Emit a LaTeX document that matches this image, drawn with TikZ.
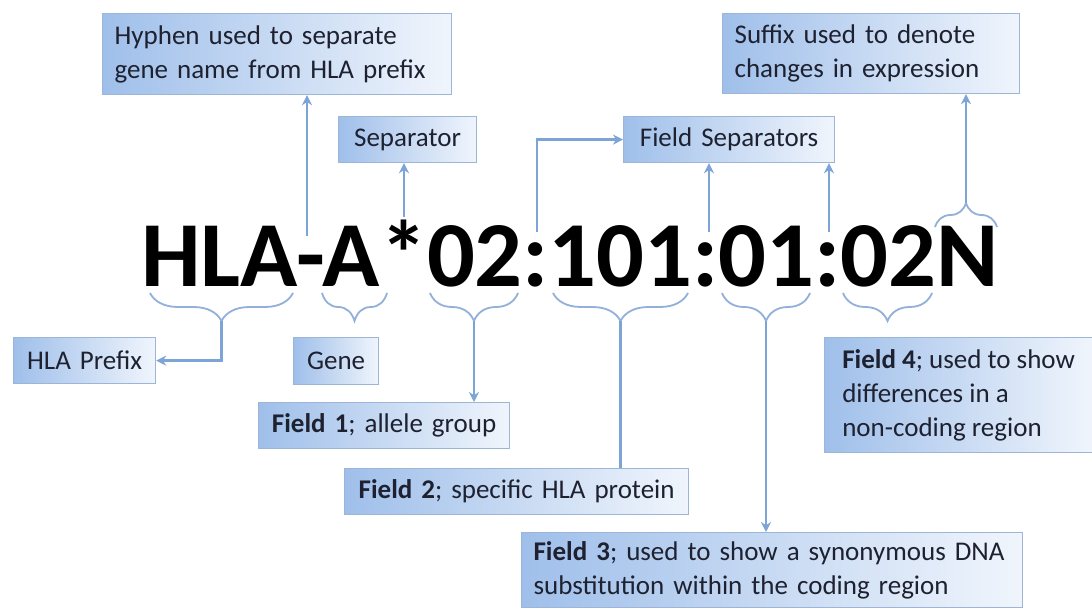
\documentclass[tikz,border=0pt]{standalone}
\usepackage{fontspec}
\setmainfont{Carlito}
\usetikzlibrary{arrows.meta,decorations.pathreplacing,calc}
\definecolor{boxL}{HTML}{9FBFEA}
\definecolor{boxR}{HTML}{F0F5FC}
\definecolor{boxB}{HTML}{9DB5D6}
\definecolor{lnC}{HTML}{7DA4D6}
\definecolor{brC}{HTML}{92B0D9}
\definecolor{txC}{HTML}{1E2130}
\begin{document}
\begin{tikzpicture}[x=1pt,y=-1pt,
  box/.style={draw=boxB, line width=1.2pt, left color=boxL, right color=boxR,
    inner xsep=12pt, inner ysep=0pt, anchor=north west, text=txC,
    font=\fontsize{27}{34}\selectfont},
  boxl/.style={box, align=left},
  boxc/.style={box, align=center},
  conn/.style={draw=lnC, line width=2.4pt},
  arr/.style={conn, -{Stealth[length=10pt,width=10pt]}},
  brc/.style={draw=brC, line width=1.8pt, decorate, decoration={brace, amplitude=28pt, mirror}},
  brcup/.style={draw=brC, line width=1.8pt, decorate, decoration={brace, amplitude=24pt}},
  ]
\useasboundingbox[fill=white] (0,0) rectangle (1092,612);

% main code
\node[anchor=base west, inner sep=0pt, font=\fontsize{93}{93}\selectfont\bfseries, text=black] (code) at (141,287) {\scalebox{1.0156}[1]{HLA-A*02:101:01:02N}};

% boxes
\node[boxl, minimum width=349pt, minimum height=81pt, text width=325pt] (hyph) at (102,13) {Hyphen used to separate\\gene name from HLA prefix};
\node[boxc, minimum width=138pt, minimum height=46pt, text width=114pt] (sep) at (338,116) {Separator};
\node[boxc, minimum width=211pt, minimum height=46pt, text width=187pt] (fsep) at (623,116) {Field Separators};
\node[boxl, minimum width=297pt, minimum height=80pt, text width=273pt] (suf) at (722,13) {Suffix used to denote\\changes in expression};
\node[boxc, minimum width=142pt, minimum height=46pt, text width=118pt] (prefix) at (13,337) {HLA Prefix};
\node[boxc, minimum width=85pt, minimum height=47pt, text width=61pt] (gene) at (293,337) {Gene};
\node[boxc, minimum width=251pt, minimum height=46pt, text width=227pt] (f1) at (258,402) {\textbf{Field 1}; allele group};
\node[boxc, minimum width=344pt, minimum height=46pt, text width=320pt] (f2) at (344,468) {\textbf{Field 2}; specific HLA protein};
\node[boxl, minimum width=501pt, minimum height=75pt, text width=477pt] (f3) at (521,532) {\textbf{Field 3}; used to show a synonymous DNA\\substitution within the coding region};
\node[boxl, minimum width=268pt, minimum height=115pt, inner xsep=6pt] (f4) at (824,337) {\textbf{Field 4}; used to show\\differences in a\\non-coding region};

% braces
\draw[brc] (150,293) -- (293,293);
\draw[brc] (322,293) -- (387,293);
\draw[brc] (430,293) -- (518,293);
\draw[brc] (553,293) -- (688,293);
\draw[brc] (722,293) -- (810,293);
\draw[brc] (843,293) -- (932,293);
\draw[brcup] (935,227) -- (997,227);

\coordinate (tHLA) at (221.5,321);
\coordinate (t02) at (474,321);
\coordinate (t101) at (620.5,321);
\coordinate (t01) at (766,321);
\coordinate (tN) at (966,203);

% connectors from the code upward
\coordinate (cHy) at (307,236);
\coordinate (cSep) at (404,217);
\coordinate (cF0) at (537,232);
\coordinate (cF1) at (709,232);
\coordinate (cF2) at (829,232);
\draw[arr] (cHy) -- (cHy |- hyph.south);
\draw[arr] (cSep) -- (cSep |- sep.south);
\draw[arr] (cF0) |- (fsep.west);
\draw[arr] (cF1) -- (cF1 |- fsep.south);
\draw[arr] (cF2) -- (cF2 |- fsep.south);
\draw[arr] (tN) -- (tN |- suf.south);

% connectors from braces downward
\draw[arr] (tHLA) |- (prefix.east);
\draw[arr] (t02) -- (t02 |- f1.north);
\draw[conn] (t101) -- (t101 |- f2.north);
\draw[arr] (t01) -- (t01 |- f3.north);
\end{tikzpicture}
\end{document}
